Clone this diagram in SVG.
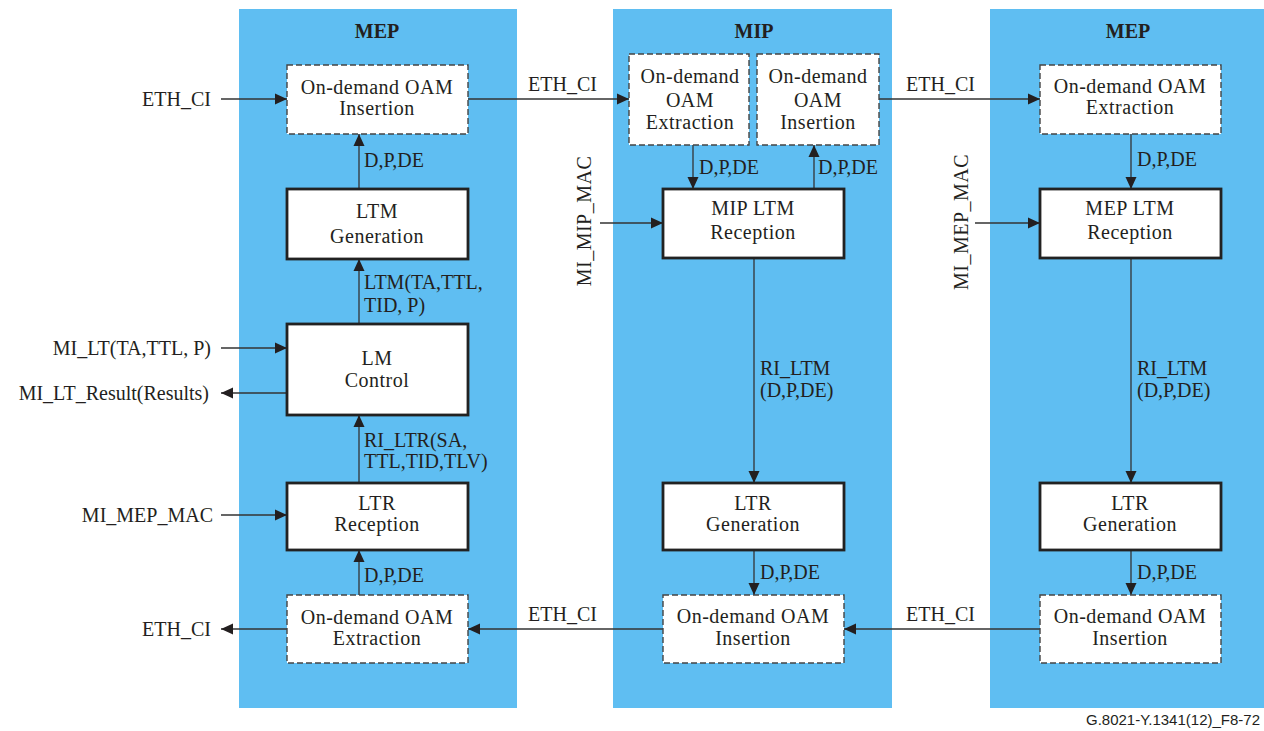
<svg xmlns="http://www.w3.org/2000/svg" width="1264" height="731" viewBox="0 0 1264 731">
<defs>
<style>
.panel{fill:#5FBEF2;stroke:none}
.dash{fill:#fff;stroke:#444;stroke-width:1.4;stroke-dasharray:6 3}
.solid{fill:#fff;stroke:#222;stroke-width:2.8}
.t{font-family:"Liberation Serif","Times New Roman",serif;font-size:20px;fill:#231F20}
.c{text-anchor:middle;letter-spacing:0.5px}
.e{text-anchor:end}
.title{font-family:"Liberation Serif","Times New Roman",serif;font-size:20px;font-weight:bold;fill:#231F20;text-anchor:middle}
.ln{stroke:#333;stroke-width:1.3;fill:none}
.arr{marker-end:url(#ah)}
.foot{font-family:"Liberation Sans",Arial,sans-serif;font-size:15px;fill:#231F20;text-anchor:end}
</style>
<marker id="ah" markerUnits="userSpaceOnUse" markerWidth="12" markerHeight="12" viewBox="0 0 12 12" refX="12" refY="6" orient="auto">
<path d="M0,0.5 L12,6 L0,11.5 z" fill="#231F20"/>
</marker>
</defs>
<rect width="1264" height="731" fill="#fff"/>

<g id="panel-mep-left">
<rect class="panel" x="239" y="9" width="278" height="699"/>
<text class="title" x="377" y="38">MEP</text>
</g>
<g id="panel-mip">
<rect class="panel" x="613" y="9" width="279" height="699"/>
<text class="title" x="754" y="38">MIP</text>
</g>
<g id="panel-mep-right">
<rect class="panel" x="990" y="9" width="274" height="699"/>
<text class="title" x="1128" y="38">MEP</text>
</g>

<g id="connectors">
<line class="ln arr" x1="221" y1="99" x2="287" y2="99"/>
<line class="ln arr" x1="468" y1="99" x2="629" y2="99"/>
<line class="ln arr" x1="879" y1="99" x2="1040" y2="99"/>
<line class="ln arr" x1="359" y1="189" x2="359" y2="134"/>
<line class="ln arr" x1="359" y1="324" x2="359" y2="259"/>
<line class="ln arr" x1="221" y1="348" x2="287" y2="348"/>
<line class="ln arr" x1="287" y1="393" x2="221" y2="393"/>
<line class="ln arr" x1="359" y1="483" x2="359" y2="415"/>
<line class="ln arr" x1="221" y1="515" x2="287" y2="515"/>
<line class="ln arr" x1="359" y1="595" x2="359" y2="550"/>
<line class="ln arr" x1="287" y1="629" x2="221" y2="629"/>
<line class="ln arr" x1="663" y1="629" x2="468" y2="629"/>
<line class="ln arr" x1="1040" y1="629" x2="844" y2="629"/>
<line class="ln arr" x1="693" y1="145" x2="693" y2="189"/>
<line class="ln arr" x1="814" y1="189" x2="814" y2="145"/>
<line class="ln arr" x1="600" y1="223" x2="663" y2="223"/>
<line class="ln arr" x1="754" y1="258" x2="754" y2="483"/>
<line class="ln arr" x1="754" y1="550" x2="754" y2="595"/>
<line class="ln arr" x1="1131" y1="134" x2="1131" y2="189"/>
<line class="ln arr" x1="975" y1="223" x2="1040" y2="223"/>
<line class="ln arr" x1="1131" y1="258" x2="1131" y2="483"/>
<line class="ln arr" x1="1131" y1="550" x2="1131" y2="595"/>

<text class="t e" x="211" y="106">ETH_CI</text>
<text class="t e" x="211" y="355">MI_LT(TA,TTL, P)</text>
<text class="t e" x="209" y="400">MI_LT_Result(Results)</text>
<text class="t e" x="213" y="522">MI_MEP_MAC</text>
<text class="t e" x="211" y="636">ETH_CI</text>
<text class="t" x="528" y="91">ETH_CI</text>
<text class="t" x="906" y="91">ETH_CI</text>
<text class="t" x="528" y="621">ETH_CI</text>
<text class="t" x="906" y="621">ETH_CI</text>
<text class="t" x="364" y="167">D,P,DE</text>
<text class="t" x="364" y="289">LTM(TA,TTL,</text>
<text class="t" x="364" y="312">TID, P)</text>
<text class="t" x="364" y="447">RI_LTR(SA,</text>
<text class="t" x="364" y="468">TTL,TID,TLV)</text>
<text class="t" x="364" y="582">D,P,DE</text>
<text class="t" x="699" y="174">D,P,DE</text>
<text class="t" x="818" y="174">D,P,DE</text>
<text class="t" x="760" y="375">RI_LTM</text>
<text class="t" x="760" y="397">(D,P,DE)</text>
<text class="t" x="760" y="579">D,P,DE</text>
<text class="t" x="1137" y="166">D,P,DE</text>
<text class="t" x="1137" y="375">RI_LTM</text>
<text class="t" x="1137" y="397">(D,P,DE)</text>
<text class="t" x="1137" y="579">D,P,DE</text>
<text class="t c" transform="translate(591,221) rotate(-90)">MI_MIP_MAC</text>
<text class="t c" transform="translate(968,222) rotate(-90)">MI_MEP_MAC</text>
</g>

<g id="left-insertion">
<rect class="dash" x="287" y="65" width="181" height="69"/>
<text class="t c" x="377" y="94">On-demand OAM</text>
<text class="t c" x="377" y="115">Insertion</text>
</g>
<g id="ltm-generation">
<rect class="solid" x="287" y="189" width="181" height="70"/>
<text class="t c" x="377" y="218">LTM</text>
<text class="t c" x="377" y="243">Generation</text>
</g>
<g id="lm-control">
<rect class="solid" x="287" y="324" width="181" height="91"/>
<text class="t c" x="377" y="365">LM</text>
<text class="t c" x="377" y="387">Control</text>
</g>
<g id="ltr-reception">
<rect class="solid" x="287" y="483" width="181" height="67"/>
<text class="t c" x="377" y="510">LTR</text>
<text class="t c" x="377" y="531">Reception</text>
</g>
<g id="left-extraction">
<rect class="dash" x="287" y="595" width="181" height="68"/>
<text class="t c" x="377" y="624">On-demand OAM</text>
<text class="t c" x="377" y="645">Extraction</text>
</g>

<g id="mip-extraction">
<rect class="dash" x="629" y="54" width="120" height="91"/>
<text class="t c" x="690" y="83">On-demand</text>
<text class="t c" x="690" y="107">OAM</text>
<text class="t c" x="690" y="129">Extraction</text>
</g>
<g id="mip-insertion">
<rect class="dash" x="757" y="54" width="122" height="91"/>
<text class="t c" x="818" y="83">On-demand</text>
<text class="t c" x="818" y="107">OAM</text>
<text class="t c" x="818" y="129">Insertion</text>
</g>
<g id="mip-ltm-reception">
<rect class="solid" x="663" y="189" width="181" height="69"/>
<text class="t c" x="753" y="215">MIP LTM</text>
<text class="t c" x="753" y="239">Reception</text>
</g>
<g id="mip-ltr-generation">
<rect class="solid" x="663" y="483" width="181" height="67"/>
<text class="t c" x="753" y="510">LTR</text>
<text class="t c" x="753" y="531">Generation</text>
</g>
<g id="mip-bottom-insertion">
<rect class="dash" x="663" y="595" width="181" height="68"/>
<text class="t c" x="753" y="623">On-demand OAM</text>
<text class="t c" x="753" y="645">Insertion</text>
</g>

<g id="right-extraction">
<rect class="dash" x="1040" y="65" width="181" height="69"/>
<text class="t c" x="1130" y="93">On-demand OAM</text>
<text class="t c" x="1130" y="114">Extraction</text>
</g>
<g id="mep-ltm-reception">
<rect class="solid" x="1040" y="189" width="181" height="69"/>
<text class="t c" x="1130" y="215">MEP LTM</text>
<text class="t c" x="1130" y="239">Reception</text>
</g>
<g id="right-ltr-generation">
<rect class="solid" x="1040" y="483" width="181" height="67"/>
<text class="t c" x="1130" y="510">LTR</text>
<text class="t c" x="1130" y="531">Generation</text>
</g>
<g id="right-insertion">
<rect class="dash" x="1040" y="595" width="181" height="68"/>
<text class="t c" x="1130" y="623">On-demand OAM</text>
<text class="t c" x="1130" y="645">Insertion</text>
</g>

<text class="foot" x="1260" y="725">G.8021-Y.1341(12)_F8-72</text>
</svg>
